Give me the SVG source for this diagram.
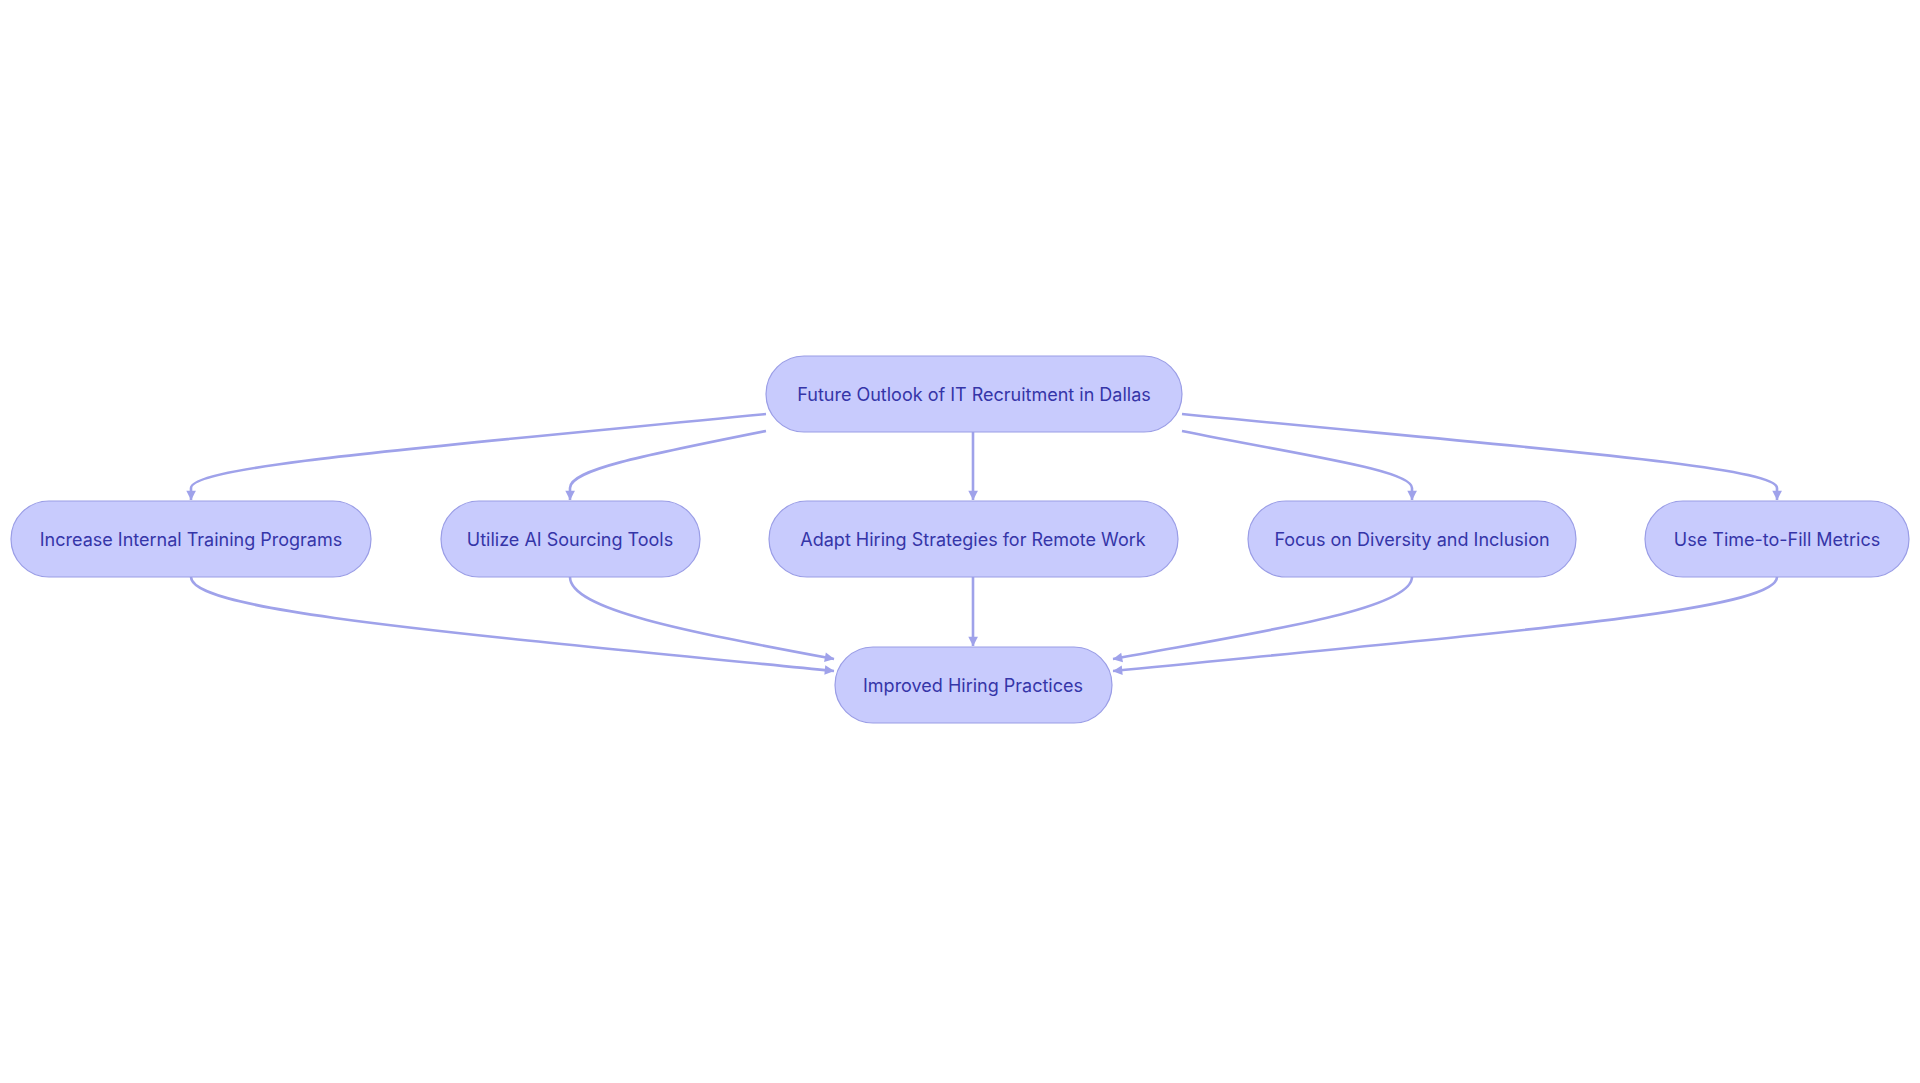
<svg xmlns="http://www.w3.org/2000/svg" width="1920" height="1083" viewBox="0 0 1920 1083">
<style>
.n rect{fill:#c8cbfd;stroke:#9a9de6;stroke-width:1.2}
.n text{font-family:Inter,"Noto Sans",sans-serif;font-size:18px;fill:#3535a8;text-anchor:middle;dominant-baseline:central}
.e path{fill:none;stroke:#9fa2ea;stroke-width:2.6;marker-end:url(#a)}
</style>
<defs><marker id="a" viewBox="0 0 10 10" refX="9" refY="5" markerWidth="6" markerHeight="6" markerUnits="userSpaceOnUse" orient="auto" style="overflow:visible"><path d="M0,0 L10,5 L0,10 z" fill="#9fa2ea" transform="scale(1.6) translate(-4,-2)"/></marker></defs>
<rect width="1920" height="1083" fill="#fff"/>
<g class="e">
<path d="M766,414 C420,448 191,466 191,488 L191,500"/>
<path d="M766,431 C640,456 570,470 570,488 L570,500"/>
<path d="M973,432 L973,500"/>
<path d="M1182,431 C1306,456 1412,470 1412,488 L1412,500"/>
<path d="M1182,414 C1528,448 1777,466 1777,488 L1777,500"/>
<path d="M191,577 C191,610 420,630 834,671"/>
<path d="M570,577 C570,610 690,632 834,659"/>
<path d="M973,577 L973,646"/>
<path d="M1412,577 C1412,610 1258,632 1113,659"/>
<path d="M1777,577 C1777,610 1528,630 1113,671"/>
</g>
<g id="top" class="n"><rect x="766" y="356" width="416" height="76" rx="38"/><text x="974" y="394">Future Outlook of IT Recruitment in Dallas</text></g>
<g id="n1" class="n"><rect x="11" y="501" width="360" height="76" rx="38"/><text x="191" y="539">Increase Internal Training Programs</text></g>
<g id="n2" class="n"><rect x="441" y="501" width="259" height="76" rx="38"/><text x="570" y="539">Utilize AI Sourcing Tools</text></g>
<g id="n3" class="n"><rect x="769" y="501" width="409" height="76" rx="38"/><text x="973" y="539">Adapt Hiring Strategies for Remote Work</text></g>
<g id="n4" class="n"><rect x="1248" y="501" width="328" height="76" rx="38"/><text x="1412" y="539">Focus on Diversity and Inclusion</text></g>
<g id="n5" class="n"><rect x="1645" y="501" width="264" height="76" rx="38"/><text x="1777" y="539">Use Time-to-Fill Metrics</text></g>
<g id="bottom" class="n"><rect x="835" y="647" width="277" height="76" rx="38"/><text x="973" y="685">Improved Hiring Practices</text></g>
</svg>
